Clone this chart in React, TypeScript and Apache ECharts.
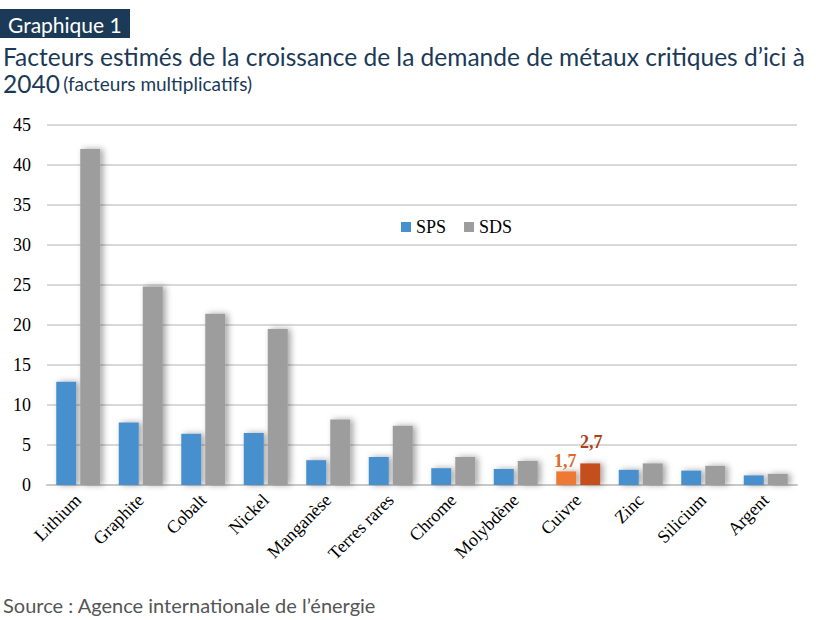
import React, { useEffect, useRef } from "react";
import * as echarts from "echarts";

const categories = ["Lithium", "Graphite", "Cobalt", "Nickel", "Manganèse", "Terres rares", "Chrome", "Molybdène", "Cuivre", "Zinc", "Silicium", "Argent"];
const sps = [12.9, 7.8, 6.4, 6.5, 3.1, 3.5, 2.1, 2.0, 1.7, 1.9, 1.8, 1.2];
const sds = [42, 24.8, 21.4, 19.5, 8.2, 7.4, 3.5, 3.0, 2.7, 2.7, 2.4, 1.4];
const yTicks = [0, 5, 10, 15, 20, 25, 30, 35, 40, 45];
const highlightCategory = "Cuivre";

const BLUE = "#4690CD";
const GRAY = "#9D9D9D";
const ORANGE = "#F07836";
const DARK_ORANGE = "#C4501F";
const NAVY = "#1B3A57";
const SERIF = "'Liberation Serif', 'DejaVu Serif', serif";
const SANS = "Lato, 'Open Sans', sans-serif";

export default function App() {
  const ref = useRef<HTMLDivElement>(null);
  useEffect(() => {
    if (!ref.current) return;
    const chart = echarts.init(ref.current, null, { renderer: "svg" });
    const shadow = { shadowBlur: 6, shadowColor: "rgba(0,0,0,0.35)", shadowOffsetX: 3, shadowOffsetY: 0 };
    const mk = (vals: number[], base: string, hi: string, labelColor: string, offset: number[], distance: number) =>
      vals.map((v, i) => {
        const isHi = categories[i] === highlightCategory;
        return {
          value: v,
          itemStyle: { color: isHi ? hi : base },
          label: isHi
            ? { show: true, position: "top", distance, offset, formatter: String(v).replace(".", ","), color: labelColor, fontFamily: SERIF, fontWeight: "bold", fontSize: 18 }
            : { show: false },
        };
      });
    chart.setOption({
      animation: false,
      graphic: [
        { type: "rect", shape: { x: 0, y: 9, width: 130, height: 29 }, style: { fill: NAVY } },
        { type: "text", x: 8, y: 24, style: { text: "Graphique 1", fill: "#fff", font: `21px ${SANS}`, verticalAlign: "middle" } },
        { type: "text", x: 3, y: 56, style: { text: "Facteurs estimés de la croissance de la demande de métaux critiques d’ici à", fill: NAVY, font: `24.5px ${SANS}`, verticalAlign: "middle" } },
        {
          type: "text", x: 3, y: 83,
          style: {
            text: "{a|2040} {b|(facteurs multiplicatifs)}",
            verticalAlign: "middle",
            rich: {
              a: { fontFamily: SANS, fontSize: 24.5, fill: NAVY, color: NAVY },
              b: { fontFamily: SANS, fontSize: 19, fill: NAVY, color: NAVY },
            },
          },
        },
        { type: "text", x: 3, y: 605, style: { text: "Source : Agence internationale de l’énergie", fill: "#555", font: `20px ${SANS}`, verticalAlign: "middle" } },
      ],
      legend: {
        data: ["SPS", "SDS"],
        left: 396,
        top: 213,
        itemWidth: 10,
        itemHeight: 10,
        itemGap: 18,
        textStyle: { fontFamily: SERIF, fontSize: 18, color: "#000" },
        icon: "rect",
      },
      grid: { left: 47, right: 19, top: 125, bottom: 135, containLabel: false },
      xAxis: {
        type: "category",
        data: categories,
        axisTick: { show: false },
        axisLine: { lineStyle: { color: "#C8C8C8", width: 2 } },
        axisLabel: { rotate: 45, interval: 0, fontFamily: SERIF, fontSize: 18, color: "#000", margin: 12 },
      },
      yAxis: {
        type: "value",
        min: yTicks[0],
        max: yTicks[yTicks.length - 1],
        interval: 5,
        axisLabel: { fontFamily: SERIF, fontSize: 18, color: "#000", margin: 16 },
        splitLine: { lineStyle: { color: "#D9D9D9", width: 2 } },
        axisLine: { show: false },
        axisTick: { show: false },
      },
      series: [
        { name: "SPS", type: "bar", data: mk(sps, BLUE, ORANGE, "#E06A2A", [-1, 0], 1), itemStyle: { color: BLUE, ...shadow }, barWidth: 20, barGap: "20%" },
        { name: "SDS", type: "bar", data: mk(sds, GRAY, DARK_ORANGE, "#A9411A", [1, -10], 2), itemStyle: { color: GRAY, ...shadow }, barWidth: 20 },
      ],
    });
    return () => chart.dispose();
  }, []);
  return <div ref={ref} style={{ position: "absolute", left: 0, top: 0, width: 816, height: 620 }} />;
}
